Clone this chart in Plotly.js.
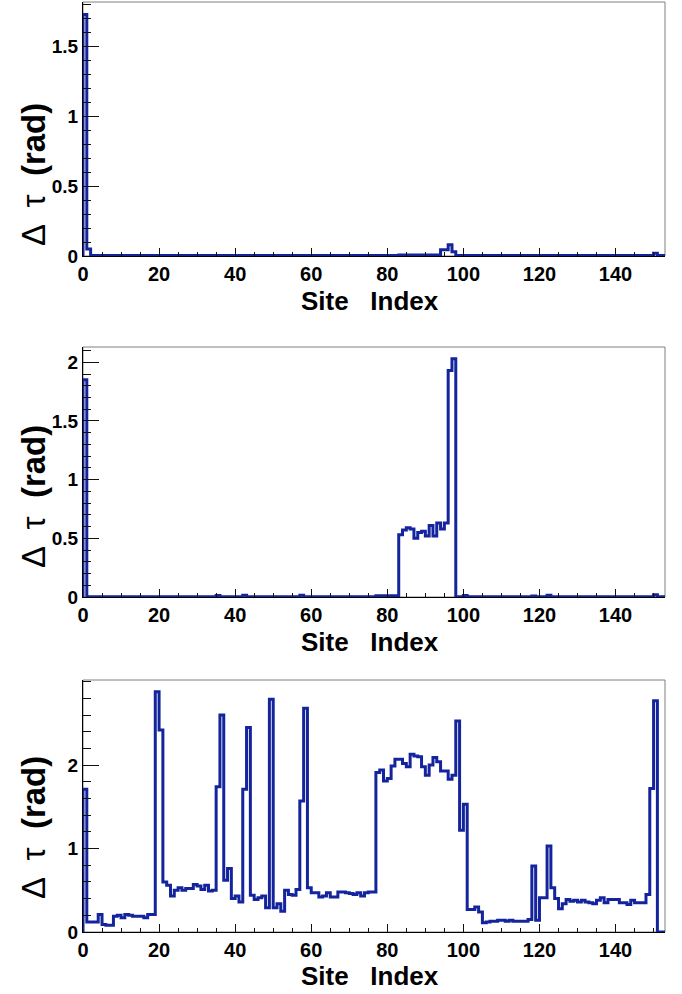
<!DOCTYPE html>
<html>
<head>
<meta charset="utf-8">
<script src="https://cdn.plot.ly/plotly-3.0.1.min.js"></script>
<style>html,body{margin:0;padding:0;background:#fff;}#plot{width:682px;height:994px;}</style>
</head>
<body>
<div id="plot"></div>
<script>
// Bin contents (one bin per site, sites 0..152)
const panel1Values = [
  1.73, 0.05,
  0.003,0.003,0.003,0.003,0.003,0.003,0.003,0.003,0.003,0.003, // 2-11
  0.003,0.003,0.003,0.003,0.003,0.003,0.003,0.003,0.003,0.003, // 12-21
  0.003,0.003,0.003,0.003,0.003,0.003,0.003,0.003,0.003,0.003, // 22-31
  0.003,0.003,0.003,0.003,0.003,0.003,0.003,0.003,0.003,0.004, // 32-41
  0.004,0.004,0.003,0.003,0.003,0.003,0.003,0.003,0.003,0.003, // 42-51
  0.003,0.003,0.003,0.003,0.003,0.003,0.003,0.003,0.003,0.003, // 52-61
  0.003,0.003,0.003,0.003,0.003,0.003,0.003,0.003,0.003,0.003, // 62-71
  0.003,0.003,0.003,0.003,0.003,0.003,0.003,0.003,0.003,0.003, // 72-81
  0.003,0.008,0.008,0.008,0.008,0.008,0.008,0.008,0.008,0.008, // 82-91
  0.008,0.008,0.045,0.045,0.08,0.03,0.003,0.003,0.003,0.003,   // 92-101
  0.003,0.003,0.003,0.003,0.003,0.003,0.003,0.003,0.003,0.003, // 102-111
  0.003,0.003,0.003,0.003,0.003,0.003,0.003,0.003,0.003,0.003, // 112-121
  0.003,0.003,0.003,0.003,0.003,0.003,0.003,0.003,0.003,0.003, // 122-131
  0.003,0.003,0.003,0.003,0.003,0.003,0.003,0.003,0.003,0.003, // 132-141
  0.003,0.003,0.003,0.003,0.003,0.003,0.003,0.003,0.02,0.003,  // 142-151
  0.003                                                          // 152
];
const panel2Values = [
  1.85,
  0.003,0.003,0.003,0.003,0.003,0.003,0.003,0.003,0.003,0.003, // 1-10
  0.003,0.003,0.003,0.003,0.003,0.003,0.003,0.003,0.003,0.003, // 11-20
  0.003,0.003,0.003,0.003,0.003,0.003,0.003,0.003,0.003,0.003, // 21-30
  0.003,0.003,0.003,0.003,0.012,0.003,0.003,0.003,0.003,0.003, // 31-40
  0.003,0.015,0.003,0.003,0.003,0.003,0.003,0.003,0.003,0.003, // 41-50
  0.003,0.003,0.003,0.003,0.003,0.003,0.015,0.003,0.003,0.003, // 51-60
  0.003,0.003,0.003,0.003,0.003,0.003,0.003,0.003,0.003,0.003, // 61-70
  0.003,0.003,0.003,0.003,0.003,0.003,0.01,0.01,0.01,0.01,     // 71-80
  0.01,0.01,                                                     // 81-82
  0.53,0.57,0.59,0.58,0.50,0.55,0.56,0.52,0.61,0.52,0.63,0.58,0.63, // 83-95
  1.93,2.03,                                                     // 96-97
  0.003,0.003,0.012,0.003,0.003,0.003,0.003,0.003,0.003,0.003, // 98-107
  0.003,0.003,0.003,0.003,0.003,0.003,0.003,0.003,0.003,0.003, // 108-117
  0.008,0.003,0.003,0.003,0.015,0.003,0.003,0.003,0.003,0.003, // 118-127
  0.003,0.003,0.003,0.003,0.003,0.003,0.003,0.003,0.003,0.003, // 128-137
  0.003,0.003,0.003,0.003,0.003,0.003,0.003,0.003,0.003,0.003, // 138-147
  0.003,0.003,0.02,0.003,0.003                                   // 148-152
];
const panel3Values = [
  1.71,                                                          // 0
  0.12,0.12,0.12,                                                // 1-3
  0.21,                                                          // 4
  0.09,0.08,0.08,                                                // 5-7
  0.19,0.20,0.17,0.21,0.20,0.19,0.19,0.19,0.17,0.21,0.21,        // 8-18
  2.88,2.42,                                                     // 19-20
  0.60,0.56,0.43,0.50,0.53,0.50,0.52,0.52,0.57,0.55,0.51,0.56,0.49,0.50, // 21-34
  1.74,2.60,                                                     // 35-36
  0.62,0.76,0.40,0.43,0.36,                                      // 37-41
  1.71,2.45,                                                     // 42-43
  0.44,0.39,0.41,0.43,0.29,                                      // 44-48
  2.79,                                                          // 49
  0.29,0.34,0.25,0.50,0.45,0.44,0.51,                            // 50-56
  1.57,2.68,                                                     // 57-58
  0.53,0.47,0.47,0.42,0.43,0.47,0.42,0.42,0.48,0.48,0.47,0.46,0.45,0.47,0.43,0.47,0.48,0.48, // 59-76
  1.91,1.94,1.81,1.84,1.99,2.07,2.07,2.02,1.98,2.13,2.11,2.10,1.98,1.88,2.00,2.09,2.04,1.93,1.93,1.83,1.88, // 77-97
  2.53,1.22,1.53,                                                // 98-100
  0.27,0.27,0.30,0.24,                                           // 101-104
  0.11,0.12,0.13,0.13,0.14,0.14,0.13,0.14,0.13,0.13,0.13,0.13,0.15, // 105-117
  0.79,0.14,0.41,0.41,1.03,0.53,0.40,0.28,0.34,0.39,             // 118-127
  0.37,0.38,0.36,0.38,0.36,0.35,0.34,0.38,0.41,0.35,             // 128-137
  0.39,0.39,0.39,0.35,0.35,0.33,0.38,0.35,0.35,0.35,             // 138-147
  0.45,1.72,2.77,                                                // 148-150
  0.0,0.0                                                        // 151-152
];
const xTickValues = [0,20,40,60,80,100,120,140];
const xTickLabels = ["0","20","40","60","80","100","120","140"];
const yTicks1 = [0,0.5,1,1.5];   const yLabels1 = ["0","0.5","1","1.5"];
const yTicks2 = [0,0.5,1,1.5,2]; const yLabels2 = ["0","0.5","1","1.5","2"];
const yTicks3 = [0,1,2];         const yLabels3 = ["0","1","2"];
const xTitle = "Site   Index";
const yTitle = "Δ  τ  <b>(rad)</b>";

const W = 682, H = 994;
const lineColor = "#14249c";
const FONT = "Liberation Sans, Arial, Helvetica, sans-serif";

// histogram outline: start from baseline at first edge, step through bins, drop to baseline at last edge
function histTrace(vals, xa, ya) {
  const xs = [0], ys = [0];
  for (let i = 0; i < vals.length; i++) { xs.push(i); ys.push(vals[i]); }
  xs.push(vals.length); ys.push(vals[vals.length-1]);
  xs.push(vals.length); ys.push(0);
  return {x: xs, y: ys, xaxis: xa, yaxis: ya, type: "scatter", mode: "lines",
          line: {shape: "hv", color: lineColor, width: 3}, cliponaxis: false, hoverinfo: "skip"};
}

const xDom = [83/W, 665/W];
const panels = [
  {top: 2,   bottom: 256, range: [0, 1.82], tv: yTicks1, tl: yLabels1, minor: 0.1, ytc: 175, xtc: 301},
  {top: 347, bottom: 597, range: [0, 2.13], tv: yTicks2, tl: yLabels2, minor: 0.1, ytc: 497, xtc: 642},
  {top: 680, bottom: 932, range: [0, 3.02], tv: yTicks3, tl: yLabels3, minor: 0.2, ytc: 828, xtc: 976}
];

const layout = {
  width: W, height: H, autosize: false,
  margin: {l: 0, r: 0, t: 0, b: 0},
  paper_bgcolor: "#fff", plot_bgcolor: "#fff",
  showlegend: false,
  annotations: [], shapes: []
};
const data = [histTrace(panel1Values, "x", "y"), histTrace(panel2Values, "x2", "y2"), histTrace(panel3Values, "x3", "y3")];

panels.forEach((p, k) => {
  const sfx = k === 0 ? "" : String(k+1);
  layout["xaxis" + sfx] = {
    domain: xDom, range: [0, 153], anchor: "y" + sfx,
    tickmode: "array", tickvals: xTickValues, ticktext: xTickLabels,
    ticks: "inside", ticklen: 8, tickwidth: 1, tickcolor: "#111",
    minor: {dtick: 5, tick0: 0, ticks: "inside", ticklen: 4, tickwidth: 1, tickcolor: "#111"},
    showline: true, linecolor: "#000", linewidth: 1, mirror: false,
    showgrid: false, zeroline: false, fixedrange: true,
    tickfont: {family: FONT, size: 20, color: "#000", weight: "bold"}
  };
  layout["yaxis" + sfx] = {
    domain: [1 - p.bottom/H, 1 - p.top/H], range: p.range, anchor: "x" + sfx,
    tickmode: "array", tickvals: p.tv, ticktext: p.tl,
    ticks: "inside", ticklen: 16, tickwidth: 1, tickcolor: "#111",
    minor: {dtick: p.minor, tick0: 0, ticks: "inside", ticklen: 8, tickwidth: 1, tickcolor: "#111"},
    showline: true, linecolor: "#000", linewidth: 1, mirror: false,
    showgrid: false, zeroline: false, fixedrange: true,
    tickfont: {family: FONT, size: 19, color: "#000", weight: "bold"}
  };
  layout.shapes.push({type: "rect", xref: "paper", yref: "paper",
    x0: xDom[0], x1: xDom[1], y0: 1 - p.bottom/H, y1: 1 - p.top/H,
    line: {color: "#808080", width: 1}, layer: "below"});
  layout.annotations.push({text: xTitle, xref: "paper", yref: "paper",
    x: 370/W, y: 1 - p.xtc/H, xanchor: "center", yanchor: "middle", showarrow: false,
    font: {family: FONT, size: 26, color: "#000", weight: "bold"}});
  layout.annotations.push({text: yTitle, xref: "paper", yref: "paper",
    x: 33/W, y: 1 - p.ytc/H, xanchor: "center", yanchor: "middle", showarrow: false, textangle: -90,
    font: {family: FONT, size: 33, color: "#000"}});
});

Plotly.newPlot("plot", data, layout, {staticPlot: true, displayModeBar: false});
</script>
</body>
</html>
